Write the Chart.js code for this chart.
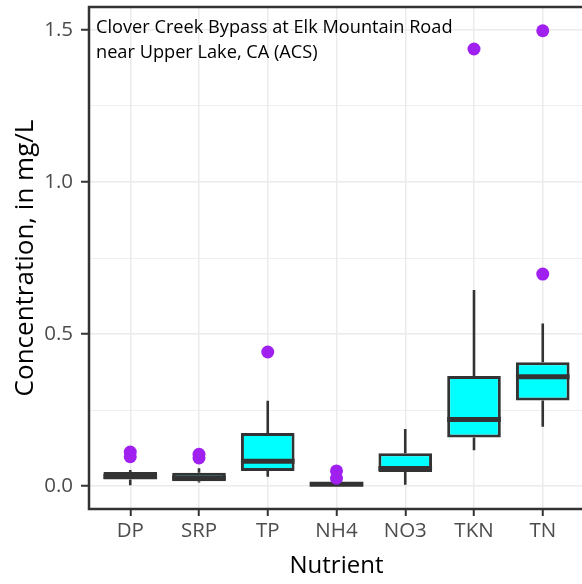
<!DOCTYPE html>
<html>
<head>
<meta charset="utf-8">
<script src="https://cdn.jsdelivr.net/npm/chart.js@4"></script>
<style>
  html, body { margin: 0; padding: 0; background: #fff; overflow: hidden; }
  #wrap { position: relative; width: 600px; height: 584px; }
</style>
</head>
<body>
<div id="wrap"><canvas id="chart"></canvas></div>
<script>
// nutrients along the x axis
const nutrients = ["DP", "SRP", "TP", "NH4", "NO3", "TKN", "TN"]

// box statistics, mg/L
const whiskerLow = [0.003, 0.012, 0.031, 0.000, 0.005, 0.118, 0.195]
const q1 = [0.022, 0.016, 0.050, 0.000, 0.047, 0.160, 0.282]
const median = [0.032, 0.027, 0.082, 0.006, 0.058, 0.219, 0.360]
const q3 = [0.047, 0.044, 0.175, 0.013, 0.108, 0.362, 0.407]
const whiskerHigh = [0.053, 0.059, 0.281, 0.013, 0.188, 0.645, 0.535]

// outliers: nutrient index and value
const outlierNutrient = [0, 0, 1, 1, 2, 3, 3, 5, 6, 6]
const outlierValue = [0.112, 0.097, 0.105, 0.093, 0.441, 0.050, 0.026, 1.437, 0.697, 1.497]

const yTicks = [0, 0.5, 1.0, 1.5]
const siteLabel = ["Clover Creek Bypass at Elk Mountain Road", "near Upper Lake, CA (ACS)"]

const dark = "#333333"
const tickFont = { family: "'Open Sans'", size: 20.5 }

const boxData = nutrients.map((n, i) => ({ x: i + 1, y: [q1[i], q3[i]] }))
const outlierData = outlierValue.map((v, i) => ({ x: outlierNutrient[i] + 1, y: v }))

// whiskers behind boxes, medians on top of boxes
const boxPlugin = {
  id: "boxParts",
  beforeDatasetsDraw(chart) {
    const { ctx, scales: { x, y } } = chart
    ctx.save()
    ctx.strokeStyle = dark
    ctx.lineWidth = 2.6
    nutrients.forEach((n, i) => {
      const px = x.getPixelForValue(i + 1)
      ctx.beginPath()
      ctx.moveTo(px, y.getPixelForValue(whiskerLow[i]))
      ctx.lineTo(px, y.getPixelForValue(q1[i]))
      ctx.moveTo(px, y.getPixelForValue(q3[i]))
      ctx.lineTo(px, y.getPixelForValue(whiskerHigh[i]))
      ctx.stroke()
    })
    ctx.restore()
  },
  afterDatasetDraw(chart, args) {
    if (args.index !== 0) return
    const { ctx, scales: { y } } = chart
    const meta = chart.getDatasetMeta(0)
    ctx.save()
    ctx.strokeStyle = dark
    ctx.lineWidth = 5
    meta.data.forEach((bar, i) => {
      const half = bar.width / 2
      const py = y.getPixelForValue(median[i])
      ctx.beginPath()
      ctx.moveTo(bar.x - half, py)
      ctx.lineTo(bar.x + half, py)
      ctx.stroke()
    })
    ctx.restore()
  },
  afterDraw(chart) {
    const { ctx, chartArea: a } = chart
    ctx.save()
    ctx.strokeStyle = dark
    ctx.lineWidth = 2.5
    ctx.strokeRect(a.left, a.top, a.right - a.left, a.bottom - a.top)
    ctx.fillStyle = "#000"
    ctx.font = "18.2px 'Open Sans'"
    ctx.textBaseline = "alphabetic"
    siteLabel.forEach((t, i) => ctx.fillText(t, a.left + 7, a.top + 26 + i * 25))
    ctx.restore()
  },
}

new Chart(document.getElementById("chart"), {
  type: "bar",
  data: {
    datasets: [
      {
        type: "bar",
        data: boxData,
        backgroundColor: "#00FFFF",
        borderColor: dark,
        borderWidth: 3,
        borderSkipped: false,
        barPercentage: 0.78,
        categoryPercentage: 1,
        order: 2,
      },
      {
        type: "scatter",
        data: outlierData,
        backgroundColor: "#A020F0",
        borderColor: "#A020F0",
        pointRadius: 6.5,
        borderWidth: 0,
        order: 1,
      },
    ],
  },
  options: {
    responsive: true,
    maintainAspectRatio: false,
    animation: false,
    layout: { padding: { top: 7, right: 16, left: 0, bottom: 0 } },
    plugins: { legend: { display: false }, tooltip: { enabled: false } },
    scales: {
      x: {
        type: "linear",
        min: 0.4,
        max: 7.6,
        offset: false,
        afterFit: (s) => {
          s.height = 75
          s.paddingLeft = 0
          s.paddingRight = 0
        },
        border: { display: false },
        grid: {
          offset: false,
          color: "#EBEBEB",
          lineWidth: 1.5,
          tickColor: dark,
          tickWidth: 2,
          tickLength: 7,
        },
        ticks: {
          stepSize: 1,
          includeBounds: false,
          autoSkip: false,
          maxRotation: 0,
          padding: 3,
          color: "#4D4D4D",
          font: tickFont,
          callback: (v) => nutrients[v - 1] ?? "",
        },
        title: {
          display: true,
          text: "Nutrient",
          color: "#000",
          font: { family: "'Open Sans'", size: 24 },
          padding: { top: 0, bottom: 3 },
        },
      },
      y: {
        min: -0.075,
        max: 1.575,
        afterFit: (s) => {
          s.width = 89
          s.paddingTop = 0
          s.paddingBottom = 0
        },
        border: { display: false },
        grid: {
          color: "#EBEBEB",
          lineWidth: (c) => (yTicks.includes(c.tick.value) ? 1.5 : 0.8),
          tickColor: (c) => (yTicks.includes(c.tick.value) ? dark : "rgba(0,0,0,0)"),
          tickWidth: 2,
          tickLength: 8,
        },
        ticks: {
          stepSize: 0.25,
          includeBounds: false,
          padding: 8,
          color: "#4D4D4D",
          font: tickFont,
          callback: (v) => (yTicks.includes(v) ? v.toFixed(1) : ""),
        },
        title: {
          display: true,
          text: "Concentration, in mg/L",
          color: "#000",
          font: { family: "'Open Sans'", size: 26 },
          padding: { top: 10, bottom: 0 },
        },
      },
    },
  },
  plugins: [boxPlugin],
})
</script>
</body>
</html>
